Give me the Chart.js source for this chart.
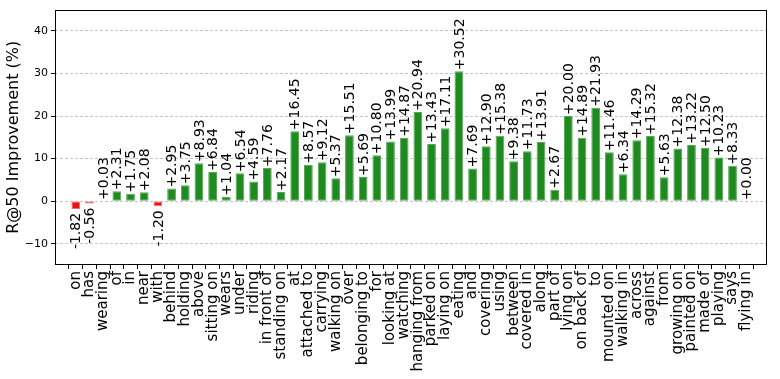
<!DOCTYPE html>
<html>
<head>
<meta charset="utf-8">
<script src="https://cdn.jsdelivr.net/npm/chart.js@4.4.1/dist/chart.umd.min.js"></script>
<style>
  html, body { margin: 0; padding: 0; background: #fff; }
  #wrap { width: 780px; height: 379px; }
</style>
</head>
<body>
<div id="wrap"><canvas id="c" width="780" height="379"></canvas></div>
<script>
const categories = ["on","has","wearing","of","in","near","with","behind","holding","above","sitting on","wears","under","riding","in front of","standing on","at","attached to","carrying","walking on","over","belonging to","for","looking at","watching","hanging from","parked on","laying on","eating","and","covering","using","between","covered in","along","part of","lying on","on back of","to","mounted on","walking in","across","against","from","growing on","painted on","made of","playing","says","flying in"];
const improvements = [-1.82,-0.56,0.03,2.31,1.75,2.08,-1.20,2.95,3.75,8.93,6.84,1.04,6.54,4.59,7.76,2.17,16.45,8.57,9.12,5.37,15.51,5.69,10.80,13.99,14.87,20.94,13.43,17.11,30.52,7.69,12.90,15.38,9.38,11.73,13.91,2.67,20.00,14.89,21.93,11.46,6.34,14.29,15.32,5.63,12.38,13.22,12.50,10.23,8.33,0.00];
const yTicks = [-10, 0, 10, 20, 30, 40];
const yTitle = "R@50 Improvement (%)";

const FONT = "'DejaVu Sans', sans-serif";

const framePlugin = {
  id: 'frame',
  afterDraw(chart) {
    const {ctx, chartArea: a} = chart;
    ctx.save();
    ctx.strokeStyle = '#000';
    ctx.lineWidth = 1;
    ctx.strokeRect(Math.round(a.left) + 0.5, Math.round(a.top) + 0.5, Math.round(a.right - a.left) - 1, Math.round(a.bottom - a.top) - 1);
    ctx.restore();
  }
};

const valueLabels = {
  id: 'valueLabels',
  afterDatasetsDraw(chart) {
    const {ctx} = chart;
    const meta = chart.getDatasetMeta(0);
    const ys = chart.scales.y;
    ctx.save();
    ctx.font = '14px ' + FONT;
    ctx.fillStyle = '#000';
    ctx.textBaseline = 'middle';
    meta.data.forEach((bar, i) => {
      const v = improvements[i];
      const txt = v >= 0 ? '+' + v.toFixed(2) : v.toFixed(2);
      const py = ys.getPixelForValue(v);
      ctx.save();
      ctx.translate(bar.x, v >= 0 ? py - 1 : py + 4);
      ctx.rotate(-Math.PI / 2);
      ctx.textAlign = v >= 0 ? 'left' : 'right';
      ctx.fillText(txt, 0, 1);
      ctx.restore();
    });
    ctx.restore();
  }
};

new Chart(document.getElementById('c'), {
  type: 'bar',
  data: {
    datasets: [{
      data: improvements.map((v, i) => ({x: i, y: v})),
      backgroundColor: improvements.map(v => v < 0 ? '#ee1111' : '#1f8a1f'),
      borderColor: improvements.map(v => v < 0 ? '#f56a6a' : '#55a855'),
      borderWidth: 1,
      borderSkipped: false,
      barPercentage: 0.64,
      categoryPercentage: 1.0
    }]
  },
  options: {
    responsive: false,
    animation: false,
    devicePixelRatio: 1,
    layout: { padding: { top: 8, right: 13, left: 0, bottom: 0 } },
    plugins: { legend: { display: false }, tooltip: { enabled: false } },
    scales: {
      x: {
        type: 'linear',
        min: -1,
        max: 50,
        afterBuildTicks(scale) { scale.ticks = categories.map((_, i) => ({value: i})); },
        afterFit(scale) { scale.height = 114; },
        ticks: {
          autoSkip: false,
          maxRotation: 90,
          minRotation: 90,
          padding: 2,
          color: '#000',
          font: { family: FONT, size: 15 },
          callback: (v) => categories[v] ?? ''
        },
        grid: { display: true, drawOnChartArea: false, drawTicks: true, tickLength: 4, tickColor: '#000', tickWidth: 1 },
        border: { display: false }
      },
      y: {
        min: -15,
        max: 45,
        afterBuildTicks(scale) { scale.ticks = yTicks.map(v => ({value: v})); },
        afterFit(scale) { scale.width = 55; },
        ticks: {
          padding: 3,
          color: '#000',
          font: { family: FONT, size: 11 },
          callback: (v) => (v < 0 ? '\u2212' + Math.abs(v) : String(v))
        },
        title: {
          display: true,
          text: yTitle,
          color: '#000',
          font: { family: FONT, size: 16 },
          padding: { top: 4, bottom: 0 }
        },
        grid: { color: 'rgba(170,170,170,0.85)', lineWidth: 0.8, drawTicks: true, tickLength: 4, tickColor: '#000', tickWidth: 1 },
        border: { display: false, dash: [3, 2] }
      }
    }
  },
  plugins: [framePlugin, valueLabels]
});
</script>
</body>
</html>
